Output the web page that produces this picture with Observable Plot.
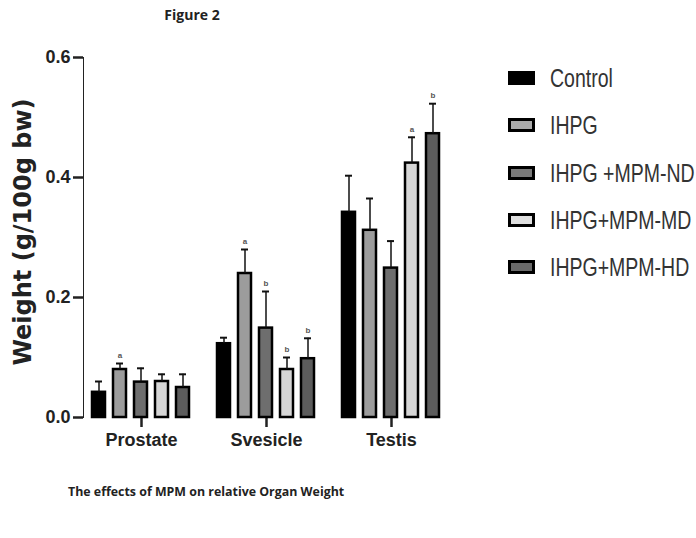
<!DOCTYPE html>
<html>
<head>
<meta charset="utf-8">
<script src="https://cdn.jsdelivr.net/npm/d3@7"></script>
<script src="https://cdn.jsdelivr.net/npm/@observablehq/plot@0.6"></script>
<style>
  body { margin: 0; background: #fff; }
  #wrap { position: relative; width: 696px; height: 538px; overflow: hidden; background:#fff; }
  #wrap svg { position: absolute; left: 0; top: 0; }
  .title { position: absolute; left: 0; width: 384px; top: 5px; text-align: center; font: bold 14px "Open Sans", sans-serif; color: #222; }
  .caption { position: absolute; left: 68px; top: 483px; font: bold 12.4px "Open Sans", sans-serif; color: #222; white-space: nowrap; }
  .ylab { position: absolute; left: 23px; top: 232px; transform: translate(-50%, -50%) rotate(-90deg); font: bold 24px "DejaVu Sans", sans-serif; color: #222; white-space: nowrap; }
  .leg { position: absolute; left: 508px; height: 26px; display: flex; align-items: center; white-space: nowrap; }
  .sw { width: 21px; height: 8px; border: 3px solid #000; margin-right: 15px; flex: none; }
  .lt { display: inline-block; font: 25px "Liberation Sans", Arial, sans-serif; color: #333; transform: scaleX(0.78); transform-origin: 0 50%; }
</style>
</head>
<body>
<div id="wrap"></div>
<script>
const organs = ["Prostate", "Svesicle", "Testis"];
const groups = ["Control", "IHPG", "IHPG +MPM-ND", "IHPG+MPM-MD", "IHPG+MPM-HD"];
const fills = ["#000000", "#9c9c9c", "#6e6e6e", "#d6d6d6", "#5c5c5c"];
const legendFills = ["#000000", "#ababab", "#7a7a7a", "#dedede", "#6a6a6a"];
const yTicks = [0, 0.2, 0.4, 0.6];

// mean values per group (Prostate, Svesicle, Testis)
const control = [0.042, 0.123, 0.342];
const ihpg = [0.080, 0.240, 0.312];
const ihpgND = [0.059, 0.149, 0.249];
const ihpgMD = [0.060, 0.080, 0.424];
const ihpgHD = [0.050, 0.098, 0.473];

// upper error (SD)
const controlErr = [0.018, 0.010, 0.061];
const ihpgErr = [0.010, 0.040, 0.053];
const ihpgNDErr = [0.023, 0.061, 0.045];
const ihpgMDErr = [0.012, 0.020, 0.043];
const ihpgHDErr = [0.022, 0.034, 0.050];

// significance letters
const controlSig = ["", "", ""];
const ihpgSig = ["a", "a", ""];
const ihpgNDSig = ["", "b", ""];
const ihpgMDSig = ["", "b", "a"];
const ihpgHDSig = ["", "b", "b"];

const means = [control, ihpg, ihpgND, ihpgMD, ihpgHD];
const errs = [controlErr, ihpgErr, ihpgNDErr, ihpgMDErr, ihpgHDErr];
const sigs = [controlSig, ihpgSig, ihpgNDSig, ihpgMDSig, ihpgHDSig];

const rows = organs.flatMap((o, i) => groups.map((g, j) => ({
  organ: o, group: g, mean: means[j][i], top: means[j][i] + errs[j][i], sig: sigs[j][i]
})));

const chart = Plot.plot({
  width: 696,
  height: 538,
  marginLeft: 80,
  marginRight: 243,
  marginTop: 57,
  marginBottom: 121,
  style: { fontFamily: "Liberation Sans, Arial, sans-serif", color: "#222", background: "transparent" },
  fx: { domain: organs, paddingInner: 0.07, paddingOuter: 0.016, label: null, tickSize: 10, tickPadding: 6, line: true },
  x: { domain: groups, padding: 0.36, axis: null },
  y: { domain: [0, 0.6], ticks: yTicks, tickFormat: ".1f", tickSize: 10, tickPadding: 3, label: null, line: true },
  color: { domain: groups, range: fills },
  marks: [
    Plot.barY(rows, { fx: "organ", x: "group", y: "mean", fill: "group", stroke: "#000", strokeWidth: 2.5 }),
    Plot.ruleX(rows, { fx: "organ", x: "group", y1: "mean", y2: "top", stroke: "#111", strokeWidth: 1.5 }),
    Plot.tickY(rows, { fx: "organ", x: "group", y: "top", stroke: "#111", strokeWidth: 2, inset: 3 }),
    Plot.text(rows, { fx: "organ", x: "group", y: "top", text: "sig", dy: -8, fontSize: 8, fontWeight: "bold", fill: "#555" })
  ]
});
const wrap = document.getElementById("wrap");
wrap.appendChild(chart);

// style axes
chart.querySelectorAll('[aria-label="y-axis tick label"], [aria-label="fx-axis tick label"]').forEach(g => {
  g.setAttribute("font-size", "18");
  g.setAttribute("font-weight", "bold");
});
chart.querySelectorAll('[aria-label="y-axis tick"], [aria-label="fx-axis tick"], [aria-label="y-axis line"], [aria-label="fx-axis line"]').forEach(g => {
  g.setAttribute("stroke-width", "2.5");
  g.setAttribute("stroke", "#111");
});

function addDiv(cls, text, styleStr) {
  const d = document.createElement("div");
  d.className = cls;
  if (text) d.textContent = text;
  if (styleStr) d.setAttribute("style", styleStr);
  wrap.appendChild(d);
  return d;
}
addDiv("title", "Figure 2");
addDiv("caption", "The effects of MPM on relative Organ Weight");
addDiv("ylab", "Weight (g/100g bw)");

const legendY = [78, 125, 173, 220, 267];
groups.forEach((g, i) => {
  const row = addDiv("leg", null, `top:${legendY[i] - 13}px`);
  const sw = document.createElement("div");
  sw.className = "sw";
  sw.style.background = legendFills[i];
  row.appendChild(sw);
  const t = document.createElement("span");
  t.className = "lt";
  t.textContent = g;
  row.appendChild(t);
});
</script>
</body>
</html>
